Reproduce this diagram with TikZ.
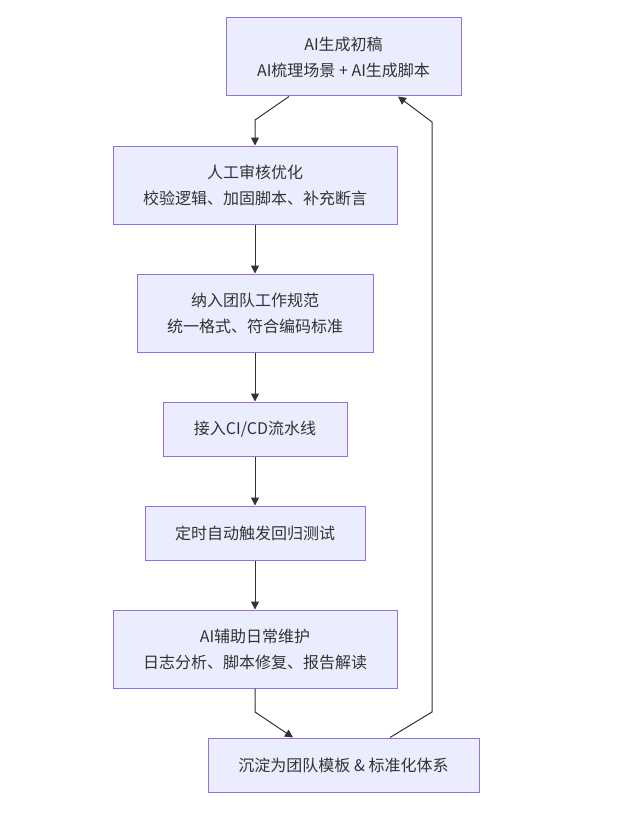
\documentclass[tikz,border=0pt]{standalone}
\usepackage{fontspec}
\setmainfont{Noto Sans CJK SC}
\usetikzlibrary{arrows.meta}
\definecolor{boxfill}{HTML}{ECECFF}
\definecolor{boxline}{HTML}{9370DB}
\definecolor{ink}{HTML}{333333}
\begin{document}
\begin{tikzpicture}[x=1pt,y=-1pt,
   box/.style={draw=boxline,fill=boxfill,line width=1pt,inner sep=0pt,
     align=center,text=ink,font=\fontsize{16}{26}\selectfont},
   flow/.style={draw=ink,line width=1pt,-{Triangle[length=8pt,width=8pt]}}]
   \useasboundingbox (0,0) rectangle (617,832);
   \node[box,minimum width=235pt,minimum height=78pt] (a0) at (343.5,57)
      {AI生成初稿\\AI梳理场景 + AI生成脚本};
   \node[box,minimum width=284pt,minimum height=78pt] (a1) at (255,185)
      {人工审核优化\\校验逻辑、加固脚本、补充断言};
   \node[box,minimum width=236pt,minimum height=78pt] (a2) at (255,313)
      {纳入团队工作规范\\统一格式、符合编码标准};
   \node[box,minimum width=184pt,minimum height=54pt] (a3) at (255,429)
      {接入CI/CD流水线};
   \node[box,minimum width=220pt,minimum height=54pt] (a4) at (255,533)
      {定时自动触发回归测试};
   \node[box,minimum width=284pt,minimum height=78pt] (a5) at (255,649)
      {AI辅助日常维护\\日志分析、脚本修复、报告解读};
   \node[box,minimum width=271pt,minimum height=54pt] (a6) at (343.5,765)
      {沉淀为团队模板 \& 标准化体系};

   \coordinate (b0) at (255,120);
   \coordinate (b5) at (255,712);
   \coordinate (b6) at (432,712);
   \coordinate (b7) at (432,122);

    \path[flow] ([xshift=-54.5pt]a0.south) -- (b0) -- (a1.north);
   \path[flow] (a1) -- (a2);
   \path[flow] (a2) -- (a3);
   \path[flow] (a3) -- (a4);
   \path[flow] (a4) -- (a5);
   \path[flow] (a5.south) -- (b5) -- ([xshift=-50.5pt]a6.north);
    \path[flow] ([xshift=46.5pt]a6.north) -- (b6) -- (b7) -- ([xshift=54.5pt]a0.south);

\end{tikzpicture}
\end{document}
